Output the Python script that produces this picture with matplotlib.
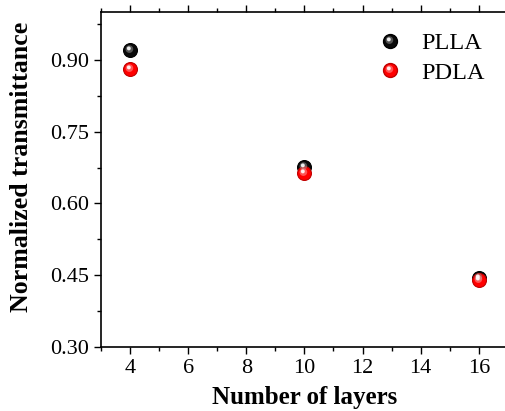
import matplotlib.pyplot as plt
from matplotlib.markers import MarkerStyle
from matplotlib.transforms import Affine2D
from matplotlib.ticker import MultipleLocator

# данные
layers = [4, 10, 16]
plla = [0.920, 0.676, 0.444]
pdla = [0.880, 0.664, 0.439]
series_names = ['PLLA', 'PDLA']

plt.rcParams['font.family'] = ['Liberation Serif', 'DejaVu Serif']

fig = plt.figure(figsize=(5.06, 4.11), dpi=100)
ax = fig.add_axes([0.1996, 0.1557, 0.804, 0.815])

MS = 10

# блик на шариках: мягкий большой и яркий маленький
glow = MarkerStyle('o', transform=Affine2D().scale(0.55).translate(-0.08, 0.1))
spot = MarkerStyle('o', transform=Affine2D().scale(0.28).translate(-0.12, 0.15))


def ball(x, y, color, dark, light, label):
    ax.plot(x, y, 'o', ms=MS, color=color, mec=dark, mew=0.8, label=label, zorder=3)
    ax.plot(x, y, ls='none', marker=glow, ms=MS, color=light, mec='none', alpha=0.55, zorder=4)
    ax.plot(x, y, ls='none', marker=spot, ms=MS, color='white', mec='none', alpha=0.9, zorder=5)


ball(layers, plla, '#0a0a0a', '#000000', '#909090', series_names[0])
ball(layers, pdla, '#ff0000', '#c00000', '#ff9a9a', series_names[1])

ax.set_xlim(3, 17)
ax.set_ylim(0.30, 1.0)
ax.xaxis.set_major_locator(MultipleLocator(2))
ax.xaxis.set_minor_locator(MultipleLocator(1))
ax.set_yticks([0.30, 0.45, 0.60, 0.75, 0.90])
ax.set_yticklabels(['0.30', '0.45', '0.60', '0.75', '0.90'])
ax.yaxis.set_minor_locator(MultipleLocator(0.075))

ax.tick_params(which='both', direction='out', top=True, labelsize=16, width=1)
ax.tick_params(which='major', length=5)
ax.tick_params(which='minor', length=3)
for s in ax.spines.values():
    s.set_linewidth(1.2)

ax.set_xlabel('Number of layers', fontsize=18, fontweight='bold', labelpad=6)
ax.set_ylabel('Normalized transmittance', fontsize=18.6, fontweight='bold')
ax.yaxis.set_label_coords(-0.167, 0.537)

# легенда
handles = []
for c, d, l in [('#0a0a0a', '#000000', '#909090'), ('#ff0000', '#c00000', '#ff9a9a')]:
    base = plt.Line2D([], [], ls='none', marker='o', ms=MS, color=c, mec=d)
    g = plt.Line2D([], [], ls='none', marker=glow, ms=MS, color=l, mec='none', alpha=0.55)
    s = plt.Line2D([], [], ls='none', marker=spot, ms=MS, color='white', mec='none', alpha=0.9)
    handles.append((base, g, s))
ax.legend(handles, series_names, loc='upper right', bbox_to_anchor=(0.997, 1.005), frameon=False,
          fontsize=17.5, handletextpad=0.55, labelspacing=0.3, handlelength=1.5)

fig.savefig('out.png', dpi=100)
